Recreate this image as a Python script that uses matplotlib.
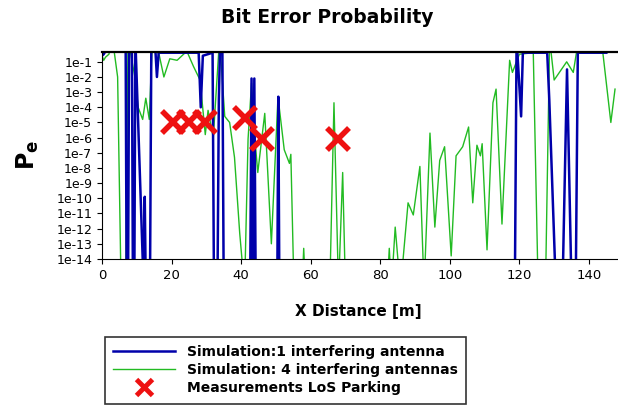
import numpy as np
import matplotlib.pyplot as plt
from matplotlib.lines import Line2D

# log10 of error probability (-16 = below the plot floor)
green_x = [0, 0.5, 1, 2, 3, 3.5, 4.5, 5.5, 6.8, 7.5, 9.5, 10.4, 11.7, 12.6, 13.6, 14.5, 16.5, 17.8, 19.5,
           21.6, 24.4, 26.3, 28.2, 29.7, 30.5, 32.0, 33.8, 35.3, 36.7, 38.1, 39.6, 41.0, 42.0, 43.0, 44.0,
           44.8, 46.8, 48.7, 50.6, 52.4, 53.9, 54.3, 55.2, 57.5, 58.0, 58.5, 65.5, 66.7, 68.0, 69.2, 70.0,
           82.0, 82.6, 83.2, 84.3, 85.8, 88.0, 89.5, 91.4, 92.6, 94.3, 95.7, 97.1, 98.5, 100.4, 101.8, 103.7,
           105.4, 106.6, 107.8, 108.8, 109.3, 110.7, 112.4, 113.3, 115.0, 117.2, 118.0, 120.0, 124.0, 125.4,
           127.5, 128.7, 130.0, 133.6, 135.5, 136.4, 144.0, 146.3, 147.5]
green_y = [-0.6, -0.9, -0.7, -0.5, 0.5, -0.3, -2.0, -16, -16, 0.5, -2.05, -4.0, -4.8, -3.4, -4.8, 0.5, -0.6, -2.0, -0.8,
           -0.9, -0.3, -1.3, -2.2, -5.8, -4.2, -6.0, 0.5, -4.6, -5.0, -7.3, -12.3, -16, -6.1, -2.4, -6.2,
           -8.3, -4.4, -13.0, -3.3, -6.8, -7.7, -7.1, -16, -16, -13.3, -16, -16, -3.7, -16, -8.3, -16,
           -16, -13.3, -16, -11.9, -16, -10.3, -11.1, -7.9, -16, -5.7, -11.9, -7.5, -6.6, -13.8, -7.2, -6.6,
           -5.3, -10.3, -6.5, -7.2, -6.4, -13.4, -3.7, -2.8, -11.7, -0.9, -1.7, -0.5, -0.4, -16,
           -16, 0.5, -2.2, -1.0, -1.7, -0.4, -0.4, -5.0, -2.8]

blue_x = [0, 0.5, 3, 6.8, 7.1, 7.5, 7.8, 8.6, 8.9, 9.3, 9.6, 12.0, 12.3, 12.6, 13.8, 14.2, 15.4, 15.8, 16.3,
          27.8, 28.4, 29.0, 31.8, 32.2, 33.2, 33.6, 34.0, 34.6, 35.0, 42.6, 43.0, 43.4, 43.8, 44.2, 50.4,
          50.7, 51.0, 118.7, 119.2, 120.5, 121.0, 128.0, 128.6, 130.5, 132.4, 133.7, 135.0, 136.2, 136.8, 144.0, 145.0]
blue_y = [-0.6, -0.5, 0.5, 0.5, -16, -16, 0.5, 0.5, -16, -16, 0.5, -16, -9.9, -16, -16, 0.5, -0.4, -2.0, -0.4,
          -0.4, -4.0, -0.6, -0.4, -16, -16, -3.5, 0.5, 0.5, -16, -16, -2.1, -16, -2.1, -16, -16,
          -3.3, -16, -16, 0.5, -4.6, -0.4, -0.4, -3.5, -16, -16, -1.5, -16, -16, -0.4, -0.4, -0.4]

meas_x = [20.5, 25.0, 29.5, 41.0, 46.0, 68.0]
meas_y = [-5.0, -5.0, -5.0, -4.7, -6.1, -6.1]

ticks = list(range(-14, 0))
tick_labels = ['1e%d' % t for t in ticks]

fig = plt.figure(figsize=(6.18, 4.19), dpi=100)
ax = fig.add_axes([0.165, 0.382, 0.833, 0.494])

ax.plot(green_x, green_y, color='#22bb22', lw=1.0)
ax.plot(blue_x, blue_y, color='#0000aa', lw=1.8)
ax.plot(meas_x, meas_y, 'x', color='#ee1111', ms=16, mew=4)

ax.set_xlim(0, 148)
ax.set_ylim(-14, -0.35)
ax.set_yticks(ticks)
ax.set_yticklabels(tick_labels, fontsize=9)
ax.set_xticks(range(0, 141, 20))
ax.tick_params(axis='x', labelsize=9.5)
ax.spines['top'].set_linewidth(1.6)
ax.spines['right'].set_visible(False)

fig.text(0.53, 0.945, 'Bit Error Probability', ha='center', fontsize=13.5, fontweight='bold')
fig.text(0.045, 0.63, r'$\mathbf{P_e}$', ha='center', va='center', rotation=90, fontsize=17)
fig.text(0.58, 0.245, 'X Distance [m]', ha='center', fontsize=11, fontweight='bold')

handles = [Line2D([], [], color='#0000aa', lw=1.8),
           Line2D([], [], color='#22bb22', lw=1.0),
           Line2D([], [], ls='', marker='x', color='#ee1111', ms=12, mew=3.5)]
labels = ['Simulation:1 interfering antenna', 'Simulation: 4 interfering antennas', 'Measurements LoS Parking']
leg = fig.legend(handles, labels, loc='lower left', bbox_to_anchor=(0.158, 0.02), fancybox=False,
                 edgecolor='black', prop={'weight': 'bold', 'size': 10}, handlelength=4.5,
                 borderpad=0.6, labelspacing=0.3)
leg.get_frame().set_linewidth(1.2)

fig.savefig('out.png')
